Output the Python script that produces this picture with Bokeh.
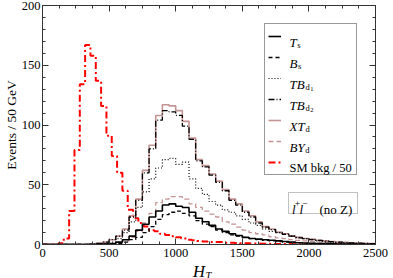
import numpy as np
from bokeh.plotting import figure
from bokeh.models import (Legend, LegendItem, Label, BoxAnnotation, LinearAxis,
                          SingleIntervalTicker, Range1d, CustomJSTickFormatter)
from bokeh.core.properties import value
from bokeh.embed import file_html
from bokeh.resources import INLINE

# ---------------- data (events per bin) ----------------
sig_bin_width = 50   # GeV, signal histograms
bkg_bin_width = 40   # GeV, SM background histogram

T_s = [0, 0, 0, 0, 0, 0, 0, 0, 0,
       0.3, 0.8, 2, 4, 7, 12, 17, 23, 28, 33, 34, 32, 31, 27, 22, 19, 16, 13, 11, 9,
       7.5, 6, 5, 4.5, 4, 3.5, 3, 2.5, 2, 1.5, 1.2, 1, 0.8, 0.7, 0.5, 0.4, 0.3, 0.3,
       0.2, 0.2, 0.1]
B_s = [0, 0, 0, 0, 0, 0, 0, 0, 0,
       0.2, 0.5, 1, 2, 4, 6, 10, 15, 21, 25, 27, 28, 26, 24, 20, 17, 15, 12, 10, 8,
       7, 6, 5, 4, 3.5, 3, 2.5, 2, 1.5, 1.5, 1, 1, 0.7, 0.5, 0.5, 0.4, 0.3, 0.2,
       0.2, 0.1, 0.1]
TB_d1 = [0, 0, 0, 0, 0, 0, 0, 0,
         0.5, 1, 2, 5, 10, 19, 31, 44, 55, 64, 71, 72, 67, 69, 55, 47, 42, 36, 33, 29,
         27, 24, 21, 18, 16, 13, 11, 10, 9, 7, 6, 5, 4, 3, 2.5, 2, 1.5, 1.2, 1, 0.8,
         0.6, 0.5]
TB_d2 = [0, 0, 0, 0, 0, 0, 0,
         0.3, 1, 2, 4, 7, 12, 23, 37, 60, 80, 104, 112, 111, 108, 99, 88, 70, 65, 58,
         52, 45, 37, 33, 27, 23, 18, 14.5, 12.5, 10, 8.5, 7, 5.5, 5, 4, 3.5, 3, 2.3,
         2, 1.6, 1.4, 1.1, 0.9, 0.7]
XT_d = [0, 0, 0, 0, 0, 0, 0,
        0.3, 1, 2, 4, 7, 13, 24, 38, 62, 83, 108, 117, 116, 112, 103, 89, 71, 66, 59,
        53, 46, 38, 34, 28, 24, 19, 15, 13, 10.5, 9, 7, 6, 5, 4.5, 3.5, 3, 2.5, 2,
        1.8, 1.5, 1.2, 1, 0.8]
BY_d = [0, 0, 0, 0, 0, 0, 0, 0, 0,
        0.3, 0.8, 1.5, 3, 6, 11, 18, 26, 35, 38, 40, 40, 38, 34, 31, 28, 25.5, 23, 19,
        17, 14.5, 12, 10, 9, 8, 6.5, 5.5, 5, 4, 3.5, 3, 2.5, 2, 1.5, 1.2, 1, 0.8,
        0.6, 0.5, 0.4, 0.3]
SM_bkg_over_50 = [0, 0, 0, 1, 5, 28, 79, 134, 167, 158, 137, 116, 91, 74, 60, 45,
                  29, 22, 18, 15, 12, 11, 9, 8, 7, 6, 5, 4, 3.5, 3, 2.5, 2, 2, 2,
                  1.5, 1.5, 1.2, 1, 1, 0.8, 0.8, 0.7, 0.6, 0.5, 0.5, 0.4, 0.4, 0.3,
                  0.3, 0.3, 0.2, 0.2, 0.2, 0.2, 0.1, 0.1, 0.1, 0.1, 0.1, 0.1, 0.1,
                  0.1, 0.1]

x_ticks_interval = 500
y_ticks_interval = 50
X_MAX, Y_MAX = 2500, 200

# ---------------- layout constants (canvas pixels) ----------------
W, H = 393, 278
FRAME_L, FRAME_R, FRAME_T, FRAME_B = 37, 380, 5, 244
SERIF = "Liberation Serif"
PINK = "#C49494"


def fx(px):
    return px - FRAME_L


def fy(py):
    return FRAME_B - py


def dx(px):
    return (px - FRAME_L) / (FRAME_R - FRAME_L) * X_MAX


def dy(py):
    return (FRAME_B - py) / (FRAME_B - FRAME_T) * Y_MAX


p = figure(width=W, height=H, x_range=Range1d(0, X_MAX), y_range=Range1d(0, Y_MAX),
           output_backend="svg", toolbar_location=None,
           min_border_left=FRAME_L, min_border_right=W - FRAME_R,
           min_border_top=FRAME_T, min_border_bottom=H - FRAME_B)
p.xgrid.visible = False
p.ygrid.visible = False
p.outline_line_color = "#333333"
p.outline_line_width = 1
p.background_fill_color = "white"
p.border_fill_color = "white"


def style_axis(ax, ticker, labels=True):
    ax.ticker = ticker
    ax.axis_line_color = "#333333"
    ax.major_tick_line_color = "#333333"
    ax.minor_tick_line_color = "#333333"
    ax.major_tick_in = 6
    ax.major_tick_out = 0
    ax.minor_tick_in = 3
    ax.minor_tick_out = 0
    if labels:
        ax.major_label_text_font = SERIF
        ax.major_label_text_font_size = "12.5px"
        ax.major_label_text_color = "black"
        ax.major_label_standoff = 3
    else:
        ax.formatter = CustomJSTickFormatter(code="return ''")
        ax.major_label_standoff = 0
        ax.major_label_text_font_size = "1px"


xt = SingleIntervalTicker(interval=x_ticks_interval, num_minor_ticks=4)
yt = SingleIntervalTicker(interval=y_ticks_interval, num_minor_ticks=5)
style_axis(p.xaxis[0], xt)
style_axis(p.yaxis[0], yt)
p.xaxis[0].major_label_standoff = 4
p.yaxis[0].major_label_standoff = 2
# y title
p.yaxis[0].axis_label = "Events / 50 GeV"
p.yaxis[0].axis_label_text_font = SERIF
p.yaxis[0].axis_label_text_font_size = "13.5px"
p.yaxis[0].axis_label_text_font_style = "normal"
p.yaxis[0].axis_label_text_color = "black"
p.yaxis[0].axis_label_standoff = 0

top_ax = LinearAxis()
right_ax = LinearAxis()
style_axis(top_ax, SingleIntervalTicker(interval=x_ticks_interval, num_minor_ticks=4), labels=False)
style_axis(right_ax, SingleIntervalTicker(interval=y_ticks_interval, num_minor_ticks=5), labels=False)
p.add_layout(top_ax, "above")
p.add_layout(right_ax, "right")


def hist(vals, width):
    edges = np.arange(len(vals) + 1) * width
    return edges, list(vals) + [vals[-1]]


e, v = hist(SM_bkg_over_50, bkg_bin_width)
r_sm = p.step(e, v, mode="after", line_color="#FF0000", line_width=2, line_dash="7 3 2 3")
e, v = hist(BY_d, sig_bin_width)
r_by = p.step(e, v, mode="after", line_color=PINK, line_width=1.3, line_dash="5 3")
e, v = hist(XT_d, sig_bin_width)
r_xt = p.step(e, v, mode="after", line_color=PINK, line_width=1.6)
e, v = hist(TB_d1, sig_bin_width)
r_tb1 = p.step(e, v, mode="after", line_color="black", line_width=1.2, line_dash="1 2")
e, v = hist(TB_d2, sig_bin_width)
r_tb2 = p.step(e, v, mode="after", line_color="black", line_width=1.3, line_dash="6 2 1 2")
e, v = hist(B_s, sig_bin_width)
r_bs = p.step(e, v, mode="after", line_color="black", line_width=1.3, line_dash="4 3")
e, v = hist(T_s, sig_bin_width)
r_ts = p.step(e, v, mode="after", line_color="black", line_width=1.6)

# ---------------- legend ----------------
LEG_L, LEG_B = 259, 175
PAD, SPACING, ROW_H = 3, 3, 18
renderers = [r_ts, r_bs, r_tb1, r_tb2, r_xt, r_by, r_sm]
n_rows = len(renderers)
leg_top = LEG_B - (2 * PAD + n_rows * ROW_H + (n_rows - 1) * SPACING)

# white box behind the legend (legend itself transparent so its texts show)
p.add_layout(BoxAnnotation(left=fx(LEG_L), right=fx(LEG_L + 91), top=fy(leg_top), bottom=fy(LEG_B),
                           left_units="screen", right_units="screen",
                           top_units="screen", bottom_units="screen",
                           fill_color="white", fill_alpha=1.0, line_alpha=0, level="annotation"))
legend = Legend(items=[LegendItem(label=value(" "), renderers=[r]) for r in renderers],
                location=(fx(LEG_L), fy(LEG_B)), margin=0, padding=PAD, spacing=SPACING,
                glyph_width=13, glyph_height=ROW_H, label_height=ROW_H, label_width=67,
                label_standoff=5, border_line_color="#333333", border_line_width=1,
                background_fill_alpha=0.0, label_text_font_size="8px")
p.add_layout(legend)


def add_text(txt, px, py, size, style="normal", align="left", baseline="alphabetic"):
    p.add_layout(Label(x=fx(px), y=fy(py), x_units="screen", y_units="screen", text=txt,
                       text_font=SERIF, text_font_size=f"{size}px", text_font_style=style,
                       text_align=align, text_baseline=baseline,
                       text_color="black", level="overlay"))


legend_texts = [("T", "s", None), ("B", "s", None), ("TB", "d", "1"), ("TB", "d", "2"),
                ("XT", "d", None), ("BY", "d", None)]
main_w = {"T": 7.3, "B": 8.0, "TB": 15.4, "XT": 15.4, "BY": 15.3}
TX = 284
for i, (m, s, ss) in enumerate(legend_texts):
    yc = leg_top + PAD + ROW_H / 2 + i * (ROW_H + SPACING)
    base = yc + 4.5
    add_text(m, TX, base, 13, style="italic")
    add_text(s, TX + main_w[m] + 0.5, base + 3, 8.5)
    if ss:
        add_text(ss, TX + main_w[m] + 5.3, base + 5, 6.5)
yc = leg_top + PAD + ROW_H / 2 + 6 * (ROW_H + SPACING)
add_text("SM bkg / 50", TX, yc + 4.5, 12.5)

# ---------------- channel box ----------------
p.add_layout(BoxAnnotation(left=fx(283), right=fx(352), top=fy(192), bottom=fy(213),
                           left_units="screen", right_units="screen",
                           top_units="screen", bottom_units="screen",
                           fill_color="white", fill_alpha=1.0,
                           line_color="#333333", line_width=1, level="annotation"))
add_text("l", 286.5, 208.5, 13, style="italic")
add_text("+", 289.3, 203, 9.5)
add_text("l", 294, 208.5, 13, style="italic")
add_text("\u2212", 296.8, 203, 9.5)
add_text("(no Z)", 314, 208.5, 13)

# ---------------- x title H_T (side panel, so it is not clipped to the frame) ----------------
for txt, px, py, size in [("H", 192, 271, 16.5), ("T", 205, 275, 10.5)]:
    p.add_layout(Label(x=dx(px), y=dy(py), x_units="data", y_units="data", text=txt,
                       text_font=SERIF, text_font_size=f"{size}px", text_font_style="italic",
                       text_align="left", text_baseline="alphabetic", text_color="black"),
                 "right")

open("out.html", "w").write(file_html(p, INLINE))
